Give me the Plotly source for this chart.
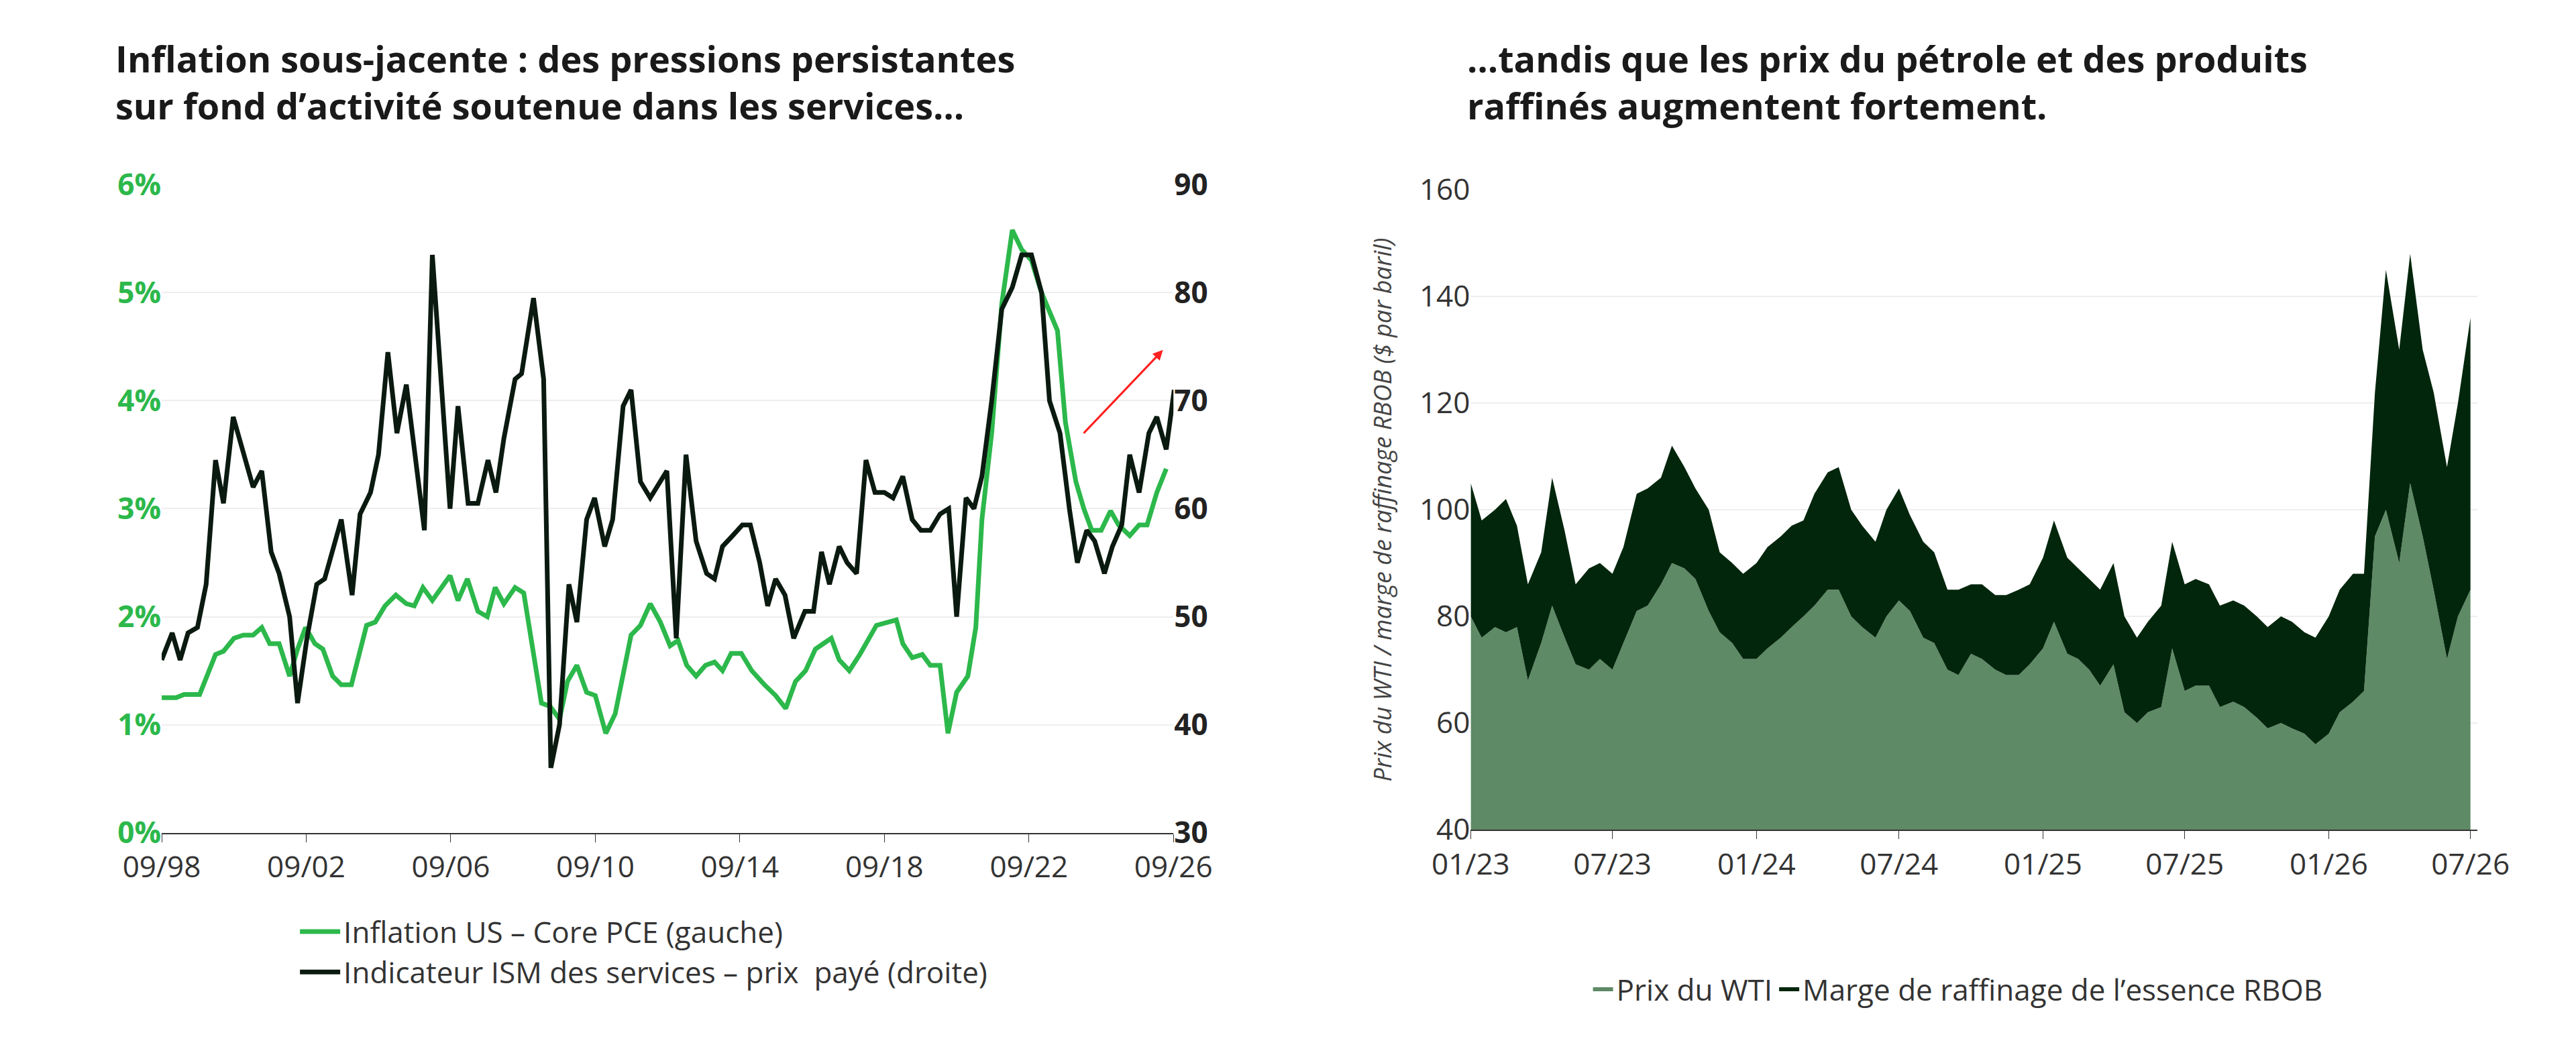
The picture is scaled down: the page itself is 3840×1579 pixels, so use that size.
import numpy as np
import pandas as pd
import plotly.graph_objects as go

# ---- left chart: core PCE (left axis) and ISM services prices paid (right axis)
# time in years since 09/1998
pce_t = [0, .40, .62, 1.05, 1.49, 1.71, 2.0, 2.26, 2.53, 2.77, 2.99, 3.25, 3.54, 3.76, 3.98, 4.24, 4.46, 4.73,
         4.97, 5.25, 5.67, 5.91, 6.18, 6.48, 6.77, 6.99, 7.23, 7.49, 7.98, 8.2, 8.46, 8.75, 9.01, 9.23, 9.47,
         9.78, 10.02, 10.51, 10.75, 11.01, 11.23, 11.49, 11.76, 12.0, 12.29, 12.55, 12.99, 13.25, 13.52, 13.80,
         14.07, 14.29, 14.53, 14.79, 15.05, 15.30, 15.52, 15.76, 16.04, 16.33, 16.68, 16.99, 17.27, 17.54, 17.82,
         18.09, 18.31, 18.53, 18.75, 19.03, 19.32, 19.78, 20.33, 20.51, 20.77, 21.05, 21.27, 21.54, 21.76, 22.0,
         22.31, 22.53, 22.70, 22.97, 23.25, 23.54, 23.80, 24.07, 24.35, 24.79, 25.01, 25.30, 25.52, 25.74, 26.0,
         26.26, 26.48, 26.79, 27.05, 27.27, 27.54, 27.80]
pce = [1.25, 1.25, 1.28, 1.28, 1.65, 1.68, 1.8, 1.83, 1.83, 1.9, 1.75, 1.75, 1.45, 1.7, 1.9, 1.75, 1.7, 1.45,
       1.37, 1.37, 1.92, 1.95, 2.1, 2.2, 2.12, 2.1, 2.27, 2.15, 2.38, 2.15, 2.35, 2.05, 2.0, 2.27, 2.12,
       2.27, 2.22, 1.2, 1.17, 1.05, 1.4, 1.55, 1.3, 1.27, 0.92, 1.1, 1.83, 1.92, 2.12, 1.95,
       1.73, 1.78, 1.55, 1.45, 1.55, 1.58, 1.5, 1.66, 1.66, 1.5, 1.37, 1.27, 1.15, 1.4, 1.5,
       1.7, 1.75, 1.8, 1.6, 1.5, 1.65, 1.92, 1.97, 1.75, 1.62, 1.65, 1.55, 1.55, 0.92, 1.3,
       1.45, 1.9, 2.9, 3.7, 4.9, 5.58, 5.4, 5.3, 5.0, 4.65, 3.8, 3.25, 3.0, 2.8, 2.8,
       2.98, 2.85, 2.75, 2.85, 2.85, 3.15, 3.37]

ism_t = [0, .29, .51, .73, .99, 1.23, 1.49, 1.71, 1.98, 2.26, 2.53, 2.77, 3.03, 3.25, 3.54, 3.76, 4.02, 4.29,
         4.51, 4.97, 5.27, 5.49, 5.78, 6.0, 6.26, 6.51, 6.77, 7.27, 7.49, 7.98, 8.2, 8.48, 8.75, 9.03, 9.25,
         9.47, 9.78, 9.96, 10.29, 10.57, 10.77, 11.01, 11.27, 11.49, 11.76, 11.98, 12.26, 12.48, 12.77, 12.99,
         13.25, 13.52, 13.98, 14.24, 14.51, 14.79, 15.08, 15.30, 15.52, 15.80, 16.07, 16.29, 16.55, 16.77,
         16.99, 17.25, 17.49, 17.80, 18.04, 18.26, 18.48, 18.75, 18.97, 19.23, 19.49, 19.74, 20.0, 20.24,
         20.51, 20.77, 21.01, 21.27, 21.54, 21.78, 22.0, 22.26, 22.48, 22.70, 22.97, 23.25, 23.54, 23.80,
         24.07, 24.35, 24.57, 24.86, 25.12, 25.34, 25.60, 25.82, 26.09, 26.31, 26.57, 26.79, 27.05, 27.32,
         27.54, 27.80, 28.02, 28.09]
ism = [46, 48.5, 46, 48.5, 49, 53, 64.5, 60.5, 68.5, 65, 62, 63.5, 56, 54, 50, 42, 48, 53,
       53.5, 59, 52, 59.5, 61.5, 65, 74.5, 67, 71.5, 58, 83.5, 60, 69.5, 60.5, 60.5, 64.5, 61.5,
       66.5, 72, 72.5, 79.5, 72, 36, 40, 53, 49.5, 59, 61, 56.5, 59, 69.5, 71,
       62.5, 61, 63.5, 48, 65, 57, 54, 53.5, 56.5, 57.5, 58.5, 58.5, 55, 51,
       53.5, 52, 48, 50.5, 50.5, 56, 53, 56.5, 55, 54, 64.5, 61.5, 61.5, 61,
       63, 59, 58, 58, 59.5, 60, 50, 61, 60, 63, 70, 78.5, 80.5, 83.5,
       83.5, 80, 70, 67, 60, 55, 58, 57, 54, 56.5, 58.5, 65, 61.5, 67,
       68.5, 65.5, 71, 69]

start = 1998.67
left_ticks = ["09/98", "09/02", "09/06", "09/10", "09/14", "09/18", "09/22", "09/26"]

# ---- right chart: WTI and RBOB margin (semi-monthly)
oil_dates = pd.date_range("2023-01-01", "2026-07-01", freq="SMS")
wti = [80, 76, 78, 77, 78, 68, 75, 82, 76, 71, 70, 72, 70, 75, 81, 82, 86, 90, 89, 87, 81, 77, 75, 72,
       72, 74, 76, 78, 80, 82, 85, 85, 80, 78, 76, 80, 83, 81, 76, 75, 70, 69, 73, 72, 70, 69, 69, 71,
       74, 79, 73, 72, 70, 67, 71, 62, 60, 62, 63, 74, 66, 67, 67, 63, 64, 63, 61, 59, 60, 59, 58, 56,
       58, 62, 64, 66, 95, 100, 90, 105, 95, 85, 72, 80, 85]
total = [105, 98, 100, 102, 97, 86, 92, 106, 96, 86, 89, 90, 88, 93, 103, 104, 106, 112, 108, 104, 100, 92, 90, 88,
         90, 93, 95, 97, 98, 103, 107, 108, 100, 97, 94, 100, 104, 99, 94, 92, 85, 85, 86, 86, 84, 84, 85, 86,
         91, 98, 91, 89, 87, 85, 90, 80, 76, 79, 82, 94, 86, 87, 86, 82, 83, 82, 80, 78, 80, 79, 77, 76,
         80, 85, 88, 88, 122, 145, 130, 148, 130, 122, 108, 120, 136]
marge = [t - w for t, w in zip(total, wti)]
right_ticks = pd.date_range("2023-01-01", "2026-07-01", freq="6MS")

GREEN = "#2cb84b"
DARK = "#0b1a10"
fnt = "Open Sans"

fig = go.Figure()
fig.add_trace(go.Scatter(x=start + np.array(pce_t), y=pce, mode="lines", name="Inflation US – Core PCE (gauche)",
                         line=dict(color=GREEN, width=7), legend="legend"))
fig.add_trace(go.Scatter(x=start + np.array(ism_t), y=ism, mode="lines", yaxis="y2",
                         name="Indicateur ISM des services – prix  payé (droite)",
                         line=dict(color=DARK, width=7), legend="legend"))
fig.add_trace(go.Scatter(x=oil_dates, y=wti, xaxis="x2", yaxis="y3", stackgroup="s", mode="none",
                         fillcolor="#5e8a66", name="Prix du WTI", legend="legend2"))
fig.add_trace(go.Scatter(x=oil_dates, y=marge, xaxis="x2", yaxis="y3", stackgroup="s", mode="none",
                         fillcolor="#02260c", name="Marge de raffinage de l’essence RBOB", legend="legend2"))

fig.add_annotation(x=start + 27.71, y=74.7, ax=start + 25.49, ay=66.9, xref="x", yref="y2", axref="x", ayref="y2",
                   text="", showarrow=True, arrowhead=2, arrowsize=1, arrowwidth=3, arrowcolor="#ff2020")

fig.add_annotation(text="<b>Inflation sous-jacente : des pressions persistantes<br>sur fond d’activité soutenue dans les services…</b>",
                   xref="paper", yref="paper", x=0.028, y=0.995, xanchor="left", yanchor="top", align="left",
                   showarrow=False, font=dict(size=54, color="#1a1a1a", family=fnt))
fig.add_annotation(text="<b>…tandis que les prix du pétrole et des produits<br>raffinés augmentent fortement.</b>",
                   xref="paper", yref="paper", x=0.569, y=0.995, xanchor="left", yanchor="top", align="left",
                   showarrow=False, font=dict(size=54, color="#1a1a1a", family=fnt))

tickfont = dict(size=44, color="#333", family=fnt)
fig.update_layout(
    width=3840, height=1579, paper_bgcolor="white", plot_bgcolor="white",
    font=dict(family=fnt), margin=dict(l=0, r=0, t=0, b=0),
    xaxis=dict(domain=[0.047, 0.452], range=[start, start + 28], tickvals=[start + 4 * i for i in range(8)],
               ticktext=left_ticks, tickfont=tickfont, showgrid=False, showline=True, linecolor="#333",
               linewidth=2, ticks="outside", ticklen=12, tickcolor="#333", zeroline=False),
    yaxis=dict(domain=[0.209, 0.845], range=[0, 6], tickvals=[0, 1, 2, 3, 4, 5, 6],
               ticktext=["<b>%d%%</b>" % v for v in range(7)], showline=False,
               tickfont=dict(size=44, color=GREEN, family=fnt), gridcolor="#eeeeee", gridwidth=2, zeroline=False),
    yaxis2=dict(overlaying="y", side="right", range=[30, 90], tickvals=[30, 40, 50, 60, 70, 80, 90],
                ticktext=["<b>%d</b>" % v for v in range(30, 91, 10)], showgrid=False,
                tickfont=dict(size=44, color="#222", family=fnt), zeroline=False),
    xaxis2=dict(domain=[0.571, 0.974], anchor="y3", range=["2023-01-01", "2026-07-10"], tickvals=right_ticks,
                tickformat="%m/%y", tickfont=tickfont, showgrid=False, showline=True, linecolor="#333",
                linewidth=2, ticks="outside", ticklen=12, tickcolor="#333"),
    yaxis3=dict(domain=[0.212, 0.840], anchor="x2", range=[40, 160], dtick=20, tickfont=tickfont,
                gridcolor="#eeeeee", gridwidth=2, zeroline=False,
                title=dict(text="<i>Prix du WTI / marge de raffinage RBOB ($ par baril)</i>",
                           font=dict(size=36, color="#444", family=fnt), standoff=30)),
    legend=dict(x=0.101, y=0.135, xanchor="left", yanchor="top", font=dict(size=44, color="#333", family=fnt),
                tracegroupgap=0, itemwidth=60),
    legend2=dict(x=0.766, y=0.055, xanchor="center", yanchor="middle", orientation="h", traceorder="normal",
                 font=dict(size=44, color="#333", family=fnt), itemsizing="constant", entrywidth=0),
)
fig.data[2].update(legendrank=1)
fig.data[3].update(legendrank=2)

fig.write_html("out.html")
